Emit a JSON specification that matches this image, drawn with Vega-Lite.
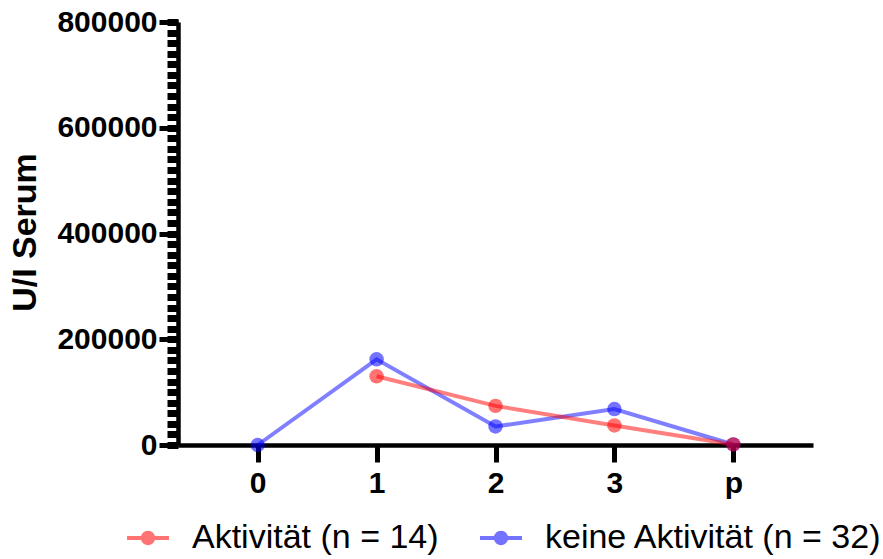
{
  "$schema": "https://vega.github.io/schema/vega-lite/v6.json",
  "width": 635,
  "height": 423,
  "autosize": "none",
  "padding": {"left": 178, "top": 22, "right": 70, "bottom": 114},
  "background": "white",
  "data": {
    "values": [
      {"Zeitpunkt": "0", "Wert": 0, "Gruppe": "keine Aktivität (n = 32)"},
      {"Zeitpunkt": "1", "Wert": 162000, "Gruppe": "keine Aktivität (n = 32)"},
      {"Zeitpunkt": "2", "Wert": 35000, "Gruppe": "keine Aktivität (n = 32)"},
      {"Zeitpunkt": "3", "Wert": 68000, "Gruppe": "keine Aktivität (n = 32)"},
      {"Zeitpunkt": "p", "Wert": 1000, "Gruppe": "keine Aktivität (n = 32)"},
      {"Zeitpunkt": "1", "Wert": 130000, "Gruppe": "Aktivität (n = 14)"},
      {"Zeitpunkt": "2", "Wert": 74000, "Gruppe": "Aktivität (n = 14)"},
      {"Zeitpunkt": "3", "Wert": 37000, "Gruppe": "Aktivität (n = 14)"},
      {"Zeitpunkt": "p", "Wert": 1000, "Gruppe": "Aktivität (n = 14)"}
    ]
  },
  "encoding": {
    "x": {
      "field": "Zeitpunkt",
      "type": "ordinal",
      "scale": {"type": "point", "domain": ["0", "1", "2", "3", "p"], "padding": 0.67},
      "axis": {
        "title": null,
        "labelAngle": 0,
        "tickSize": 17,
        "tickWidth": 5,
        "domainWidth": 4.5,
        "labelPadding": 6
      }
    },
    "color": {
      "field": "Gruppe",
      "type": "nominal",
      "scale": {
        "domain": ["Aktivität (n = 14)", "keine Aktivität (n = 32)"],
        "range": ["#ff0000", "#0000ff"]
      },
      "legend": {
        "orient": "none",
        "direction": "horizontal",
        "legendX": -51,
        "legendY": 495,
        "title": null,
        "padding": 0,
        "symbolType": "M-1,-0.1H1V0.1H-1Z M0.34,0A0.34,0.34,0,1,1,-0.34,0A0.34,0.34,0,1,1,0.34,0Z",
        "symbolSize": 1764,
        "symbolStrokeWidth": 0,
        "symbolOpacity": 0.55,
        "labelFont": "Liberation Sans",
        "labelFontSize": 34,
        "labelOffset": 23,
        "labelLimit": 600,
        "columnPadding": 41
      }
    }
  },
  "layer": [
    {
      "mark": {"type": "line", "strokeWidth": 4, "opacity": 0.5},
      "encoding": {
        "y": {
          "field": "Wert",
          "type": "quantitative",
          "scale": {"domain": [0, 800000], "nice": false},
          "axis": {
            "orient": "left",
            "values": [0, 20000, 40000, 60000, 80000, 100000, 120000, 140000, 160000, 180000, 200000, 220000, 240000, 260000, 280000, 300000, 320000, 340000, 360000, 380000, 400000, 420000, 440000, 460000, 480000, 500000, 520000, 540000, 560000, 580000, 600000, 620000, 640000, 660000, 680000, 700000, 720000, 740000, 760000, 780000, 800000],
            "labels": false,
            "domain": false,
            "title": null,
            "tickSize": 11,
            "tickWidth": 7,
            "tickColor": "#000000",
            "tickOpacity": 1
          }
        }
      }
    },
    {
      "mark": {"type": "point", "filled": true, "size": 210, "opacity": 0.55},
      "encoding": {
        "y": {
          "field": "Wert",
          "type": "quantitative",
          "scale": {"domain": [0, 800000], "nice": false},
          "axis": {
            "orient": "left",
            "values": [0, 200000, 400000, 600000, 800000],
            "format": "d",
            "tickSize": 19,
            "tickWidth": 5,
            "tickColor": "#000000",
            "domainWidth": 4.5,
            "labelPadding": 2,
            "labelOverlap": false,
            "labelBound": false,
            "labelFlush": false,
            "title": "U/I Serum",
            "titleFont": "Liberation Sans",
            "titleFontSize": 34,
            "titleFontWeight": "bold",
            "titleAngle": -90,
            "titleX": -143,
            "titleY": 210,
            "titleAlign": "center",
            "titleBaseline": "alphabetic"
          }
        }
      }
    }
  ],
  "resolve": {"axis": {"y": "independent"}},
  "config": {
    "view": {"stroke": null},
    "axis": {
      "grid": false,
      "domainColor": "black",
      "tickColor": "black",
      "labelColor": "black",
      "titleColor": "black",
      "labelFont": "Liberation Sans",
      "labelFontWeight": "bold",
      "labelFontSize": 30
    }
  }
}
